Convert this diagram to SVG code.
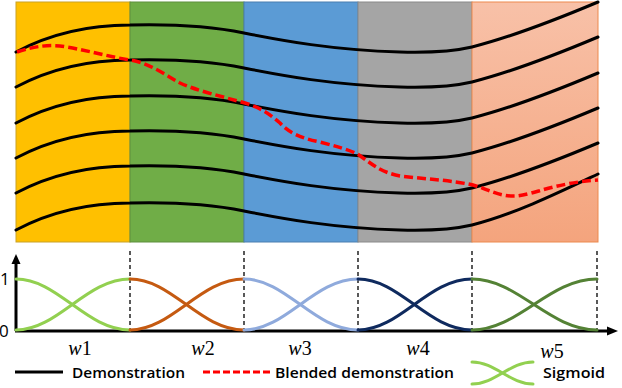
<svg xmlns="http://www.w3.org/2000/svg" width="622" height="388" viewBox="0 0 622 388">
<style>
.demo{fill:none;stroke:#000;stroke-width:3;stroke-linecap:round}
.blend{fill:none;stroke:#FF0000;stroke-width:3.5;stroke-dasharray:9 4}
.sig{fill:none;stroke-width:3;stroke-linecap:round}
.vdash{stroke:#000;stroke-width:1.3;stroke-dasharray:4 3}
.axis{stroke:#000;stroke-width:3}
.lbl{font-family:"Open Sans","Liberation Sans",sans-serif;font-size:15px;font-weight:600;fill:#000}
.w{font-family:"Liberation Serif",serif;font-size:20px;fill:#000}
.num{font-family:"Open Sans","Liberation Sans",sans-serif;font-size:17px;fill:#000}
</style>
<defs>
<linearGradient id="og" x1="0" y1="0" x2="0" y2="1">
<stop offset="0" stop-color="#F8C1A8"/>
<stop offset="1" stop-color="#F4A47D"/>
</linearGradient>
<path id="dc" d="M16,52 C50,34 90,25 130,25 C170,24 210,26 244,33 C280,40 330,50 400,52 C435,53 455,51 472,47 C515,36 560,18 598,2"/>
</defs>
<g id="panels">
<rect x="16" y="2" width="114" height="240" fill="#FFC000" stroke="#C9A227" stroke-width="1"/>
<rect x="130" y="2" width="114" height="240" fill="#70AD47" stroke="#5E8F3E" stroke-width="1"/>
<rect x="244" y="2" width="114" height="240" fill="#5B9BD5" stroke="#4A7FB0" stroke-width="1"/>
<rect x="358" y="2" width="114" height="240" fill="#A5A5A5" stroke="#8A8A8A" stroke-width="1"/>
<rect x="472" y="2" width="126" height="240" fill="url(#og)" stroke="#ED8A4E" stroke-width="1"/>
</g>
<g id="demonstrations">
<use href="#dc" class="demo"/>
<use href="#dc" class="demo" transform="translate(0,35)"/>
<use href="#dc" class="demo" transform="translate(0,71)"/>
<use href="#dc" class="demo" transform="translate(0,106)"/>
<use href="#dc" class="demo" transform="translate(0,141)"/>
<path class="demo" d="M16,230 C50,212 90,203 130,203 C170,202 210,204 244,211 C280,218 330,228 400,230 C435,231 455,229 472,225 C515,214 560,192 598,174"/>
</g>
<g id="blended">
<path class="blend" d="M17,52 C35,46 50,44 67,47 C90,51 110,57 130,60 C150,63 165,75 180,83 C195,90 220,96 245,103 C262,108 272,116 280,123 C288,132 300,138 320,142 C335,146 350,150 359,155 C372,164 380,172 400,176 C425,179 450,180 473,185 C490,190 500,197 517,196 C535,194 555,183 598,180"/>
</g>
<g id="axes">
<line class="axis" x1="16" y1="331" x2="16" y2="263"/>
<polygon points="16,254 11.5,264 20.5,264" fill="#000"/>
<line class="axis" x1="15" y1="331" x2="608" y2="331"/>
<polygon points="618,331 607,326.5 607,335.5" fill="#000"/>
<text class="num" x="0" y="285">1</text>
<text class="num" x="-1" y="337">0</text>
</g>
<g id="boundaries">
<line class="vdash" x1="130" y1="251" x2="130" y2="330"/>
<line class="vdash" x1="244" y1="251" x2="244" y2="330"/>
<line class="vdash" x1="358" y1="251" x2="358" y2="330"/>
<line class="vdash" x1="472" y1="251" x2="472" y2="330"/>
<line class="vdash" x1="597" y1="251" x2="597" y2="330"/>
</g>
<g id="sigmoids">
<g stroke="#92D050">
<path class="sig" d="M16,279 C58,279 86,330 130,330"/>
<path class="sig" d="M16,330 C58,330 86,279 130,279"/>
</g>
<g stroke="#C55A11">
<path class="sig" d="M130,279 C172,279 200,330 244,330"/>
<path class="sig" d="M130,330 C172,330 200,279 244,279"/>
</g>
<g stroke="#8FAADC">
<path class="sig" d="M244,279 C286,279 314,330 358,330"/>
<path class="sig" d="M244,330 C286,330 314,279 358,279"/>
</g>
<g stroke="#0F2A5E">
<path class="sig" d="M358,279 C400,279 428,330 472,330"/>
<path class="sig" d="M358,330 C400,330 428,279 472,279"/>
</g>
<g stroke="#548235">
<path class="sig" d="M472,279 C518,279 549,330 597,330"/>
<path class="sig" d="M472,330 C518,330 549,279 597,279"/>
</g>
</g>
<g id="weights">
<text class="w" x="80" y="355" text-anchor="middle"><tspan font-style="italic">w</tspan>1</text>
<text class="w" x="203" y="355" text-anchor="middle"><tspan font-style="italic">w</tspan>2</text>
<text class="w" x="300" y="355" text-anchor="middle"><tspan font-style="italic">w</tspan>3</text>
<text class="w" x="418" y="355" text-anchor="middle"><tspan font-style="italic">w</tspan>4</text>
<text class="w" x="552" y="358" text-anchor="middle"><tspan font-style="italic">w</tspan>5</text>
</g>
<g id="legend">
<line x1="15" y1="372" x2="63" y2="372" stroke="#000" stroke-width="3"/>
<text class="lbl" x="72" y="378" textLength="113" lengthAdjust="spacingAndGlyphs">Demonstration</text>
<line x1="203" y1="372" x2="273" y2="372" stroke="#FF0000" stroke-width="3" stroke-dasharray="7 3"/>
<text class="lbl" x="275" y="378" textLength="179" lengthAdjust="spacingAndGlyphs">Blended demonstration</text>
<path class="sig" stroke="#92D050" d="M472,362 C495,362 510,384 533,384"/>
<path class="sig" stroke="#92D050" d="M472,384 C495,384 510,362 533,362"/>
<text class="lbl" x="543" y="378" textLength="62" lengthAdjust="spacingAndGlyphs">Sigmoid</text>
</g>
</svg>
